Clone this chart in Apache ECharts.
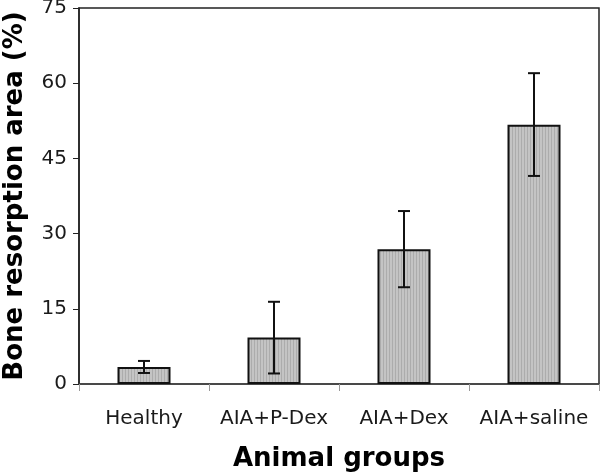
<!DOCTYPE html>
<html lang="en" style="height: 100%">
<head>
  <meta charset="utf-8">
</head>
<body style="height: 100%; margin: 0; background: #fff">
  <div id="container" style="width: 600px; height: 472px"></div>
  <script type="text/javascript" src="https://cdn.jsdelivr.net/npm/echarts@6/dist/echarts.min.js"></script>
  <script type="text/javascript">
    // data
    var groups = ['Healthy', 'AIA+P-Dex', 'AIA+Dex', 'AIA+saline'];
    var meanArea = [3.4, 9.3, 26.9, 51.7];
    var errLow = [2.2, 2.1, 19.3, 41.5];
    var errHigh = [4.6, 16.4, 34.5, 62.0];
    var yTicks = [0, 15, 30, 45, 60, 75];

    // vertical stripe fill like the original
    var pat = document.createElement('canvas');
    pat.width = 3;
    pat.height = 4;
    var pctx = pat.getContext('2d');
    pctx.fillStyle = '#c4c4c4';
    pctx.fillRect(0, 0, 3, 4);
    pctx.fillStyle = '#acacac';
    pctx.fillRect(2, 0, 1, 4);

    var dom = document.getElementById('container');
    var myChart = echarts.init(dom, null, { renderer: 'canvas' });

    var font = 'DejaVu Sans';

    var option = {
      backgroundColor: '#fff',
      animation: false,
      grid: {
        left: 79,
        right: 1,
        top: 8,
        bottom: 88,
        containLabel: false,
        outerBoundsMode: 'none',
        show: true,
        borderColor: '#222',
        borderWidth: 1.5
      },
      xAxis: {
        type: 'category',
        data: groups,
        name: 'Animal groups',
        nameLocation: 'middle',
        nameGap: 62,
        nameTextStyle: { fontFamily: font, fontWeight: 'bold', fontSize: 26, color: '#000' },
        axisLine: { lineStyle: { color: '#444', width: 1.5 } },
        axisTick: { show: true, length: 7, lineStyle: { color: '#999' } },
        axisLabel: { fontFamily: font, fontSize: 20, color: '#1a1a1a', margin: 25, interval: 0 }
      },
      yAxis: {
        type: 'value',
        min: yTicks[0],
        max: yTicks[yTicks.length - 1],
        interval: 15,
        name: 'Bone resorption area (%)',
        nameLocation: 'middle',
        nameGap: 51,
        nameTextStyle: { fontFamily: font, fontWeight: 'bold', fontSize: 26, color: '#000' },
        splitLine: { show: false },
        axisLine: { show: true, lineStyle: { color: '#222', width: 1.5 } },
        axisTick: { show: true, length: 6, lineStyle: { color: '#222' } },
        axisLabel: { fontFamily: font, fontSize: 20, color: '#1a1a1a', margin: 12 }
      },
      series: [
        {
          type: 'bar',
          data: meanArea,
          barWidth: 53,
          itemStyle: {
            color: { image: pat, repeat: 'repeat' },
            borderColor: '#111',
            borderWidth: 2
          }
        },
        {
          type: 'custom',
          data: groups.map(function (g, i) { return [i, errLow[i], errHigh[i]]; }),
          renderItem: function (params, api) {
            var lo = api.coord([api.value(0), api.value(1)]);
            var hi = api.coord([api.value(0), api.value(2)]);
            var half = 6;
            var style = { stroke: '#111', lineWidth: 2 };
            return {
              type: 'group',
              children: [
                { type: 'line', shape: { x1: lo[0], y1: lo[1], x2: hi[0], y2: hi[1] }, style: style },
                { type: 'line', shape: { x1: lo[0] - half, y1: lo[1], x2: lo[0] + half, y2: lo[1] }, style: style },
                { type: 'line', shape: { x1: hi[0] - half, y1: hi[1], x2: hi[0] + half, y2: hi[1] }, style: style }
              ]
            };
          },
          z: 5
        }
      ]
    };

    myChart.setOption(option);
    window.addEventListener('resize', myChart.resize);
  </script>
</body>
</html>
